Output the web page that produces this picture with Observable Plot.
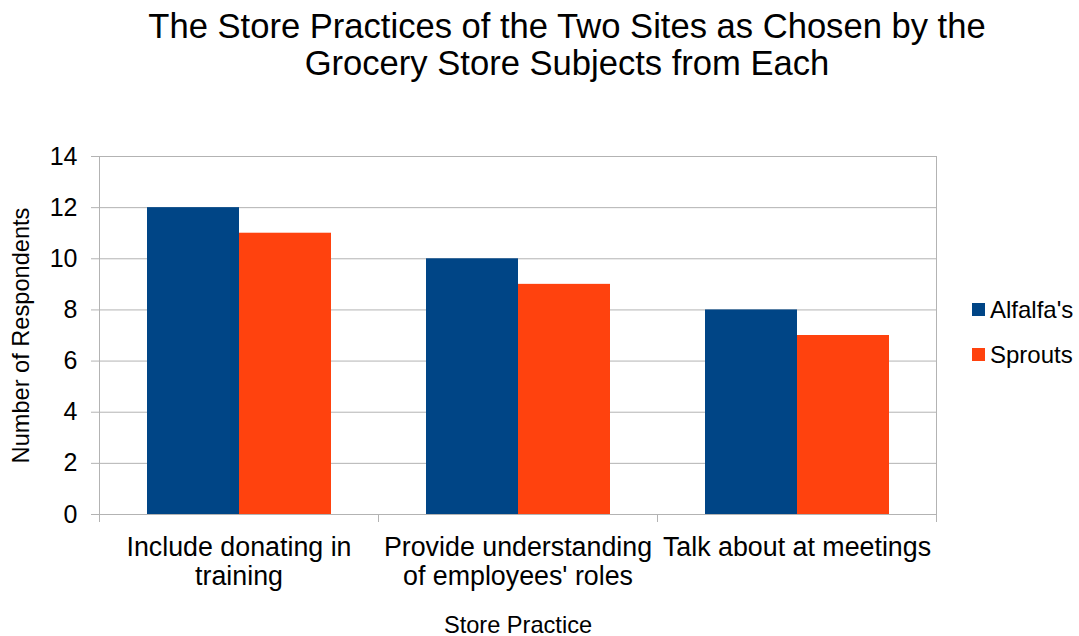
<!DOCTYPE html>
<html>
<head>
<meta charset="utf-8">
<script src="https://cdn.jsdelivr.net/npm/d3@7"></script>
<script src="https://cdn.jsdelivr.net/npm/@observablehq/plot@0.6"></script>
<style>
  html, body { margin: 0; padding: 0; background: #fff; }
  body { width: 1079px; height: 636px; position: relative; overflow: hidden; font-family: "Liberation Sans", Arial, sans-serif; }
  #title { height: 100px; box-sizing: border-box; padding-top: 8px; text-align: center; font-size: 34.6px; line-height: 37px; color: #000; padding-left: 55px; }
  #legend { position: absolute; left: 972px; top: 287px; font-size: 24px; color: #000; }
  #legend .item { display: flex; align-items: center; height: 45px; }
  #legend .sw { width: 13px; height: 13px; margin-right: 5px; }
</style>
</head>
<body>
<div id="title">The Store Practices of the Two Sites as Chosen by the<br>Grocery Store Subjects from Each</div>
<div id="chart"></div>
<div id="legend"></div>
<script>
const categories = ["Include donating in training", "Provide understanding of employees' roles", "Talk about at meetings"];
const categoryLabels = ["Include donating in\ntraining", "Provide understanding\nof employees' roles", "Talk about at meetings"];
const series = ["Alfalfa's", "Sprouts"];
const alfalfaValues = [12, 10, 8];
const sproutsValues = [11, 9, 7];
const seriesColors = ["#004586", "#ff420e"];
const yTicks = [0, 2, 4, 6, 8, 10, 12, 14];

const data = [];
categories.forEach((c, i) => {
  data.push({category: c, series: series[0], value: alfalfaValues[i]});
  data.push({category: c, series: series[1], value: sproutsValues[i]});
});

const grid = "#b3b3b3";
const H = 536, mT = 56, mB = 122;
const innerH = H - mT - mB;

const chart = Plot.plot({
  width: 1079,
  height: H,
  marginLeft: 99,
  marginRight: 143,
  marginTop: mT,
  marginBottom: mB,
  style: {fontFamily: "'Liberation Sans', Arial, sans-serif", color: "#000", background: "#fff"},
  fx: {domain: categories, padding: 0},
  x: {domain: series, paddingInner: 0, paddingOuter: 0.508, axis: null},
  y: {domain: [0, 14]},
  color: {domain: series, range: seriesColors},
  marks: [
    Plot.gridY(yTicks, {stroke: grid, strokeOpacity: 1}),
    Plot.barY(data, {fx: "category", x: "series", y: "value", fill: "series"}),
    Plot.frame({anchor: "left", stroke: grid, strokeOpacity: 1, facet: "super"}),
    Plot.frame({anchor: "right", stroke: grid, strokeOpacity: 1, facet: "super"}),
    Plot.frame({anchor: "left", stroke: grid, strokeOpacity: 1, insetTop: innerH, insetBottom: -7}),
    Plot.frame({anchor: "right", stroke: grid, strokeOpacity: 1, insetTop: innerH, insetBottom: -7}),
    Plot.axisY(yTicks, {tickSize: 8, tickPadding: 14, stroke: grid, strokeOpacity: 1, fill: "#000", fontSize: 25,
      label: "Number of Respondents", labelAnchor: "center", labelOffset: 87, labelArrow: "none"}),
    Plot.axisFx({anchor: "bottom", tickSize: 0, tickPadding: 21, fontSize: 26.8, lineHeight: 1.08,
      tickFormat: d => categoryLabels[categories.indexOf(d)],
      label: "Store Practice", labelAnchor: "center", labelOffset: 118, labelArrow: "none"})
  ]
});
document.getElementById("chart").appendChild(chart);

chart.querySelectorAll("g[aria-label='y-axis label'] text, g[aria-label='fx-axis label'] text").forEach(t => t.setAttribute("font-size", 23.6));

const legend = document.getElementById("legend");
series.forEach((s, i) => {
  const item = document.createElement("div");
  item.className = "item";
  item.innerHTML = `<span class="sw" style="background:${seriesColors[i]}"></span><span>${s}</span>`;
  legend.appendChild(item);
});
</script>
</body>
</html>
